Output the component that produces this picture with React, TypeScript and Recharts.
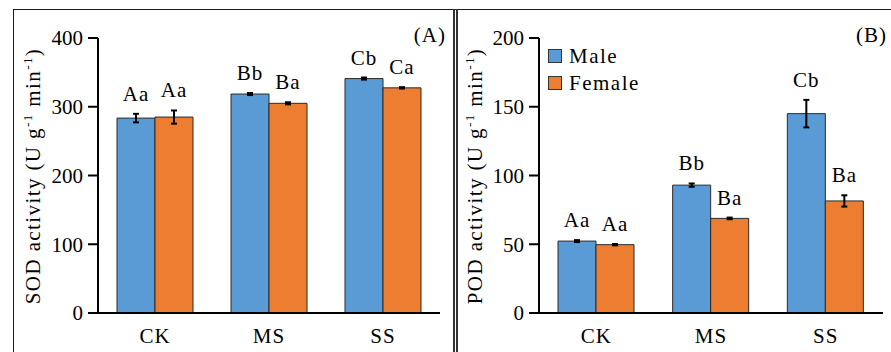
import React from 'react';
import { BarChart, Bar, XAxis, YAxis, ErrorBar, LabelList, Customized } from 'recharts';

// Treatments on the x axis
const categories = ['CK', 'MS', 'SS'];

// SOD activity (U g-1 min-1)
const sodMale = [283.5, 318.5, 341];
const sodMaleErr = [6.2, 1.5, 1.5];
const sodFemale = [285, 305, 327.5];
const sodFemaleErr = [9.6, 1.5, 1];
const sodMaleLetters = ['Aa', 'Bb', 'Cb'];
const sodFemaleLetters = ['Aa', 'Ba', 'Ca'];
const sodTicks = [0, 100, 200, 300, 400];

// POD activity (U g-1 min-1)
const podMale = [52.3, 93, 145];
const podMaleErr = [0.7, 1.2, 10];
const podFemale = [49.7, 68.8, 81.5];
const podFemaleErr = [0.5, 0.6, 4.1];
const podMaleLetters = ['Aa', 'Bb', 'Cb'];
const podFemaleLetters = ['Aa', 'Ba', 'Ba'];
const podTicks = [0, 50, 100, 150, 200];

// Series shown in the legend
const seriesNames = ['Male', 'Female'];

const FONT = 'Liberation Serif, Tinos, DejaVu Serif, serif';
const MALE_COLOR = '#5B9BD5';
const FEMALE_COLOR = '#ED7D31';
const BAR_STROKE = '#2a2a2a';
const seriesColors = [MALE_COLOR, FEMALE_COLOR];

const buildRows = (
  male: number[], maleErr: number[], female: number[], femaleErr: number[],
  maleLetters: string[], femaleLetters: string[],
) =>
  categories.map((cat, i) => ({
    cat,
    male: male[i],
    maleErr: maleErr[i],
    female: female[i],
    femaleErr: femaleErr[i],
    maleLetter: maleLetters[i],
    femaleLetter: femaleLetters[i],
  }));

const sodRows = buildRows(sodMale, sodMaleErr, sodFemale, sodFemaleErr, sodMaleLetters, sodFemaleLetters);
const podRows = buildRows(podMale, podMaleErr, podFemale, podFemaleErr, podMaleLetters, podFemaleLetters);

// Significance letters sit above the top of each error bar
const letterRenderer = (values: number[], errs: number[]) => (props: any) => {
  const { x, y, width, height, value, index } = props;
  const v = values[index];
  const pxPerUnit = v ? height / v : 0;
  const errPx = errs[index] * pxPerUnit;
  return (
    <text
      x={x + width / 2}
      y={y - errPx - 13}
      textAnchor="middle"
      fontFamily={FONT}
      fontSize={21}
      letterSpacing={1}
      fill="#000"
    >
      {value}
    </text>
  );
};

const axisLabel = (text: string, x: number, y: number) => () => (
  <text
    x={x}
    y={y}
    transform={`rotate(-90 ${x} ${y})`}
    textAnchor="middle"
    fontFamily={FONT}
    fontSize={21}
    letterSpacing={1.4}
    fill="#000"
  >
    <tspan>{text} (U g</tspan>
    <tspan dy={-8} fontSize={13}>-1</tspan>
    <tspan dy={8}>{' min'}</tspan>
    <tspan dy={-8} fontSize={13}>-1</tspan>
    <tspan dy={8}>)</tspan>
  </text>
);

const panelTag = (text: string, x: number, y: number) => () => (
  <text x={x} y={y} textAnchor="end" fontFamily={FONT} fontSize={21} letterSpacing={1} fill="#000">
    {text}
  </text>
);

// Legend drawn in the upper-left corner of the plot area
const sexLegend = (x: number, y: number) => () => (
  <g fontFamily={FONT} fontSize={21} letterSpacing={1.5} fill="#000">
    {seriesNames.map((name, i) => (
      <g key={name} transform={`translate(${x}, ${y + i * 27})`}>
        <rect x={0.5} y={-6.5} width={13} height={13} fill={seriesColors[i]} stroke="#333" strokeWidth={1} />
        <text x={21} y={7} fill="#000">{name}</text>
      </g>
    ))}
  </g>
);

interface PanelProps {
  rows: any[];
  male: number[];
  maleErr: number[];
  female: number[];
  femaleErr: number[];
  ticks: number[];
  width: number;
  yAxisWidth: number;
  marginRight: number;
  label: string;
  labelX: number;
  tag: string;
  tagX: number;
  showLegend?: boolean;
}

const Panel = (p: PanelProps) => (
  <BarChart
    width={p.width}
    height={352}
    data={p.rows}
    margin={{ top: 38, right: p.marginRight, left: 0, bottom: 9 }}
    barCategoryGap={19}
    barGap={0}
  >
    <XAxis
      dataKey="cat"
      tickLine={false}
      tickSize={0}
      tickMargin={15}
      height={30}
      axisLine={{ stroke: '#000', strokeWidth: 2 }}
      tick={{ fontSize: 21, fill: '#000', fontFamily: FONT, letterSpacing: 1 }}
    />
    <YAxis
      width={p.yAxisWidth}
      domain={[p.ticks[0], p.ticks[p.ticks.length - 1]]}
      ticks={p.ticks}
      interval={0}
      tickSize={10}
      tickMargin={5}
      axisLine={{ stroke: '#000', strokeWidth: 2 }}
      tickLine={{ stroke: '#000', strokeWidth: 2 }}
      tick={{ fontSize: 21, fill: '#000', fontFamily: FONT }}
    />
    <Bar dataKey="male" name="Male" fill={MALE_COLOR} stroke={BAR_STROKE} strokeWidth={1} isAnimationActive={false}>
      <ErrorBar dataKey="maleErr" width={3} stroke="#000" strokeWidth={2} isAnimationActive={false} />
      <LabelList dataKey="maleLetter" content={letterRenderer(p.male, p.maleErr)} />
    </Bar>
    <Bar dataKey="female" name="Female" fill={FEMALE_COLOR} stroke={BAR_STROKE} strokeWidth={1} isAnimationActive={false}>
      <ErrorBar dataKey="femaleErr" width={3} stroke="#000" strokeWidth={2} isAnimationActive={false} />
      <LabelList dataKey="femaleLetter" content={letterRenderer(p.female, p.femaleErr)} />
    </Bar>
    <Customized component={axisLabel(p.label, p.labelX, 176)} />
    <Customized component={panelTag(p.tag, p.tagX, 42)} />
    {p.showLegend && <Customized component={sexLegend(90, 56)} />}
  </BarChart>
);

const line = (style: React.CSSProperties) => (
  <div style={{ position: 'absolute', background: '#1a1a1a', ...style }} />
);

export default function App() {
  return (
    <div style={{ position: 'absolute', left: 0, top: 0, width: 891, height: 352, background: '#fff', overflow: 'hidden' }}>
      {line({ left: 13, top: 9, width: 878, height: 1 })}
      {line({ left: 13, top: 9, width: 1, height: 343 })}
      {line({ left: 453, top: 9, width: 2, height: 343, background: '#333' })}
      {line({ left: 456, top: 9, width: 2, height: 343, background: '#333' })}
      <div style={{ position: 'absolute', left: 0, top: 0 }}>
        <Panel
          rows={sodRows}
          male={sodMale}
          maleErr={sodMaleErr}
          female={sodFemale}
          femaleErr={sodFemaleErr}
          ticks={sodTicks}
          width={452}
          yAxisWidth={98}
          marginRight={12}
          label="SOD activity"
          labelX={40}
          tag="(A)"
          tagX={446}
        />
      </div>
      <div style={{ position: 'absolute', left: 458, top: 0 }}>
        <Panel
          rows={podRows}
          male={podMale}
          maleErr={podMaleErr}
          female={podFemale}
          femaleErr={podFemaleErr}
          ticks={podTicks}
          width={433}
          yAxisWidth={81}
          marginRight={8}
          label="POD activity"
          labelX={24}
          tag="(B)"
          tagX={429}
          showLegend
        />
      </div>
    </div>
  );
}
